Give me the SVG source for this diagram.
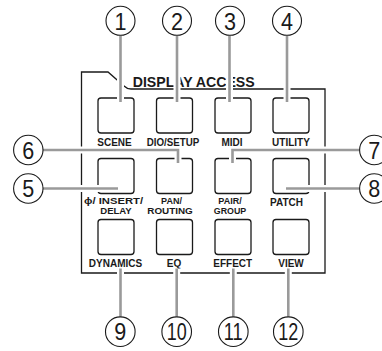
<svg xmlns="http://www.w3.org/2000/svg" xmlns:xlink="http://www.w3.org/1999/xlink" width="382" height="351" viewBox="0 0 382 351">
<style>
.frame{fill:none;stroke:#1a1a1a;stroke-width:1.3}
.btn{fill:#fff;stroke:#1a1a1a;stroke-width:1.3}
.lbl{font-family:"Liberation Sans",Arial,sans-serif;font-weight:bold;font-size:10px;fill:#1a1a1a;text-anchor:middle}
.lbl2{font-size:9px}
.title{font-family:"Liberation Sans",Arial,sans-serif;font-weight:bold;font-size:15.5px;fill:#1a1a1a}
.halo{fill:none;stroke:#fff;stroke-width:7}
.wire{fill:none;stroke:#9a9a9a;stroke-width:2.6}
.co{fill:#fff;stroke:#1a1a1a;stroke-width:1.1}
.num{font-family:"Liberation Sans",Arial,sans-serif;font-size:23px;fill:#1a1a1a;text-anchor:middle}
</style>
<defs>
<path id="p1" d="M120.5 35.5V102"/>
<path id="p2" d="M177 35.5V102"/>
<path id="p3" d="M229.5 35.5V102"/>
<path id="p4" d="M287 35.5V102"/>
<path id="p6" d="M43 150H178V163"/>
<path id="p7" d="M359.5 150H232.5V163"/>
<path id="p5" d="M43 188.5H118"/>
<path id="p8" d="M359.5 188.5H286"/>
<path id="p9" d="M120.5 268.5V316.7"/>
<path id="p10" d="M176.7 268.5V316.7"/>
<path id="p11" d="M233.3 268.5V316.7"/>
<path id="p12" d="M288.3 268.5V316.7"/>
</defs>
<rect width="382" height="351" fill="#fff"/>
<g id="panel">
<path class="frame" d="M81.5 273V72H108L124 86Q127 89 131 89H325V273Z"/>
<text class="title" x="132.7" y="86.7" textLength="122" lengthAdjust="spacingAndGlyphs">DISPLAY ACCESS</text>
</g>
<g id="btn-scene"><rect class="btn" x="98" y="98" width="36" height="35" rx="3"/><text class="lbl" x="114.5" y="145.5">SCENE</text></g>
<g id="btn-dio"><rect class="btn" x="156.5" y="98" width="36" height="35" rx="3"/><text class="lbl" x="173" y="145.5" textLength="52.6" lengthAdjust="spacingAndGlyphs">DIO/SETUP</text></g>
<g id="btn-midi"><rect class="btn" x="215" y="98" width="36" height="35" rx="3"/><text class="lbl" x="232" y="145.5">MIDI</text></g>
<g id="btn-utility"><rect class="btn" x="273" y="98" width="36" height="35" rx="3"/><text class="lbl" x="291" y="145.5">UTILITY</text></g>
<g id="btn-insert"><rect class="btn" x="98" y="158.5" width="36" height="35" rx="3"/><text class="lbl lbl2" x="113.5" y="204" textLength="59" lengthAdjust="spacingAndGlyphs">ϕ/ INSERT/</text><text class="lbl lbl2" x="116" y="214.3" textLength="31.5" lengthAdjust="spacingAndGlyphs">DELAY</text></g>
<g id="btn-pan"><rect class="btn" x="156.5" y="158.5" width="36" height="35" rx="3"/><text class="lbl lbl2" x="171.5" y="204">PAN/</text><text class="lbl lbl2" x="170" y="214.3" textLength="45.5" lengthAdjust="spacingAndGlyphs">ROUTING</text></g>
<g id="btn-pair"><rect class="btn" x="215" y="158.5" width="36" height="35" rx="3"/><text class="lbl lbl2" x="230" y="204">PAIR/</text><text class="lbl lbl2" x="230" y="214.3" textLength="32.5" lengthAdjust="spacingAndGlyphs">GROUP</text></g>
<g id="btn-patch"><rect class="btn" x="273" y="158.5" width="36" height="35" rx="3"/><text class="lbl" x="286.5" y="206">PATCH</text></g>
<g id="btn-dynamics"><rect class="btn" x="98" y="219.5" width="36" height="35" rx="3"/><text class="lbl" x="115.5" y="267">DYNAMICS</text></g>
<g id="btn-eq"><rect class="btn" x="156.5" y="219.5" width="36" height="35" rx="3"/><text class="lbl" x="174" y="267">EQ</text></g>
<g id="btn-effect"><rect class="btn" x="215" y="219.5" width="36" height="35" rx="3"/><text class="lbl" x="232.7" y="267">EFFECT</text></g>
<g id="btn-view"><rect class="btn" x="273" y="219.5" width="36" height="35" rx="3"/><text class="lbl" x="291" y="267">VIEW</text></g>
<g id="connectors">
<use xlink:href="#p1" class="halo"/><use xlink:href="#p2" class="halo"/><use xlink:href="#p3" class="halo"/><use xlink:href="#p4" class="halo"/>
<use xlink:href="#p5" class="halo"/><use xlink:href="#p6" class="halo"/><use xlink:href="#p7" class="halo"/><use xlink:href="#p8" class="halo"/>
<use xlink:href="#p9" class="halo"/><use xlink:href="#p10" class="halo"/><use xlink:href="#p11" class="halo"/><use xlink:href="#p12" class="halo"/>
<use xlink:href="#p1" class="wire"/><use xlink:href="#p2" class="wire"/><use xlink:href="#p3" class="wire"/><use xlink:href="#p4" class="wire"/>
<use xlink:href="#p5" class="wire"/><use xlink:href="#p6" class="wire"/><use xlink:href="#p7" class="wire"/><use xlink:href="#p8" class="wire"/>
<use xlink:href="#p9" class="wire"/><use xlink:href="#p10" class="wire"/><use xlink:href="#p11" class="wire"/><use xlink:href="#p12" class="wire"/>
</g>
<g id="c1"><circle class="co" cx="120.5" cy="20.8" r="14.5"/><text class="num" x="120.5" y="29.5" textLength="12" lengthAdjust="spacingAndGlyphs">1</text></g>
<g id="c2"><circle class="co" cx="177" cy="20.8" r="14.5"/><text class="num" x="177" y="29.5" textLength="12" lengthAdjust="spacingAndGlyphs">2</text></g>
<g id="c3"><circle class="co" cx="230" cy="20.8" r="14.5"/><text class="num" x="230" y="29.5" textLength="12" lengthAdjust="spacingAndGlyphs">3</text></g>
<g id="c4"><circle class="co" cx="287" cy="20.8" r="14.5"/><text class="num" x="287" y="29.5" textLength="12" lengthAdjust="spacingAndGlyphs">4</text></g>
<g id="c5"><circle class="co" cx="28.3" cy="188.5" r="14.7"/><text class="num" x="28.3" y="197" textLength="12" lengthAdjust="spacingAndGlyphs">5</text></g>
<g id="c6"><circle class="co" cx="28.3" cy="150" r="14.7"/><text class="num" x="28.3" y="158.5" textLength="12" lengthAdjust="spacingAndGlyphs">6</text></g>
<g id="c7"><circle class="co" cx="374.3" cy="150" r="14.7"/><text class="num" x="374.3" y="158.5" textLength="12" lengthAdjust="spacingAndGlyphs">7</text></g>
<g id="c8"><circle class="co" cx="374.3" cy="188.5" r="14.7"/><text class="num" x="374.3" y="197" textLength="12" lengthAdjust="spacingAndGlyphs">8</text></g>
<g id="c9"><circle class="co" cx="120.3" cy="331.7" r="14.8"/><text class="num" x="120.3" y="340.2" textLength="12" lengthAdjust="spacingAndGlyphs">9</text></g>
<g id="c10"><circle class="co" cx="176.7" cy="331.7" r="14.8"/><text class="num" x="176.7" y="340.2" textLength="20" lengthAdjust="spacingAndGlyphs">10</text></g>
<g id="c11"><circle class="co" cx="233.3" cy="331.7" r="14.8"/><text class="num" x="233.3" y="340.2" textLength="19" lengthAdjust="spacingAndGlyphs">11</text></g>
<g id="c12"><circle class="co" cx="288.3" cy="331.7" r="14.8"/><text class="num" x="288.3" y="340.2" textLength="20" lengthAdjust="spacingAndGlyphs">12</text></g>
</svg>
